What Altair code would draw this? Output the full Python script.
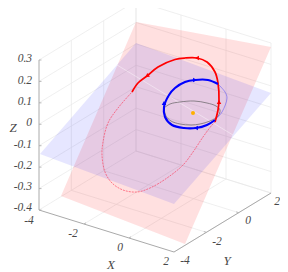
import altair as alt
import numpy as np
import pandas as pd

W, H = 272, 264
OX, OY = 8, 8

# Plot-box corners and ticks (page pixels)
x_ticks = [-4, -2, 0, 2]
y_ticks = [-4, -2, 0, 2]
z_ticks = [0.3, 0.2, 0.1, 0, -0.1, -0.2, -0.3, -0.4]
z_tick_text = ["0.3", "0.2", "0.1", "0", "-0.1", "-0.2", "-0.3", "-0.4"]
z_label_py = [59, 81, 102, 123, 145, 166, 187, 208]

red_plane = [(61, 196), (136, 22), (271, 47), (185, 244)]
blue_plane = [(40, 154), (136, 43), (271, 93), (174, 204)]
seam = [(117, 65), (233, 135)]

red_thick = [(132, 92), (138, 83), (147, 76), (158, 67), (175, 59.5), (185, 58), (197, 58), (207, 62), (215, 72),
             (218, 83), (219, 100), (218, 110), (215, 122)]
red_thin = [(215, 122), (212, 125), (203, 137), (193, 152), (183, 165), (167, 178), (150, 188), (137, 192),
            (123, 190), (112, 183), (105, 172), (102, 155), (103, 142), (108, 123), (118, 108), (132, 92)]
blue_thick = [(218, 84), (208, 80), (195, 80), (185, 82), (175, 88), (169, 95), (164, 107), (165, 117), (172, 125),
              (184, 128), (196, 128), (207, 125), (215, 120)]
blue_thin = [(215, 120), (222, 112), (227, 98), (225, 92), (218, 84)]
ellipse = [(164, 108), (170, 104), (180, 102), (194, 101), (207, 103), (216, 106), (220, 110), (218, 116),
           (210, 121), (200, 124), (191, 125), (180, 124), (171, 121), (166, 116), (164, 108)]
red_heads = [(147, 76, 235), (197, 58, 270), (219, 102, 0)]
blue_heads = [(195, 80, 90), (164, 103, 0), (196, 128, 270)]
focus = [(193, 113)]


def project(x, y, z):
    return (39 + (x + 4) * 22.5 + (y + 4) * 16.17,
            210 + (x + 4) * 7 - (y + 4) * 9.83 - (z + 0.4) * 214.3)


sx = alt.Scale(domain=[OX, OX + W], range=[0, W])
sy = alt.Scale(domain=[OY, OY + H], range=[0, H])
X = alt.X("px:Q", scale=sx, axis=None)
Y = alt.Y("py:Q", scale=sy, axis=None)


def line(pts, color, width, opacity=1.0, interp="linear", dash=None):
    df = pd.DataFrame(pts, columns=["px", "py"])
    df["i"] = range(len(df))
    kw = dict(color=color, strokeWidth=width, opacity=opacity, interpolate=interp, clip=False)
    if dash:
        kw["strokeDash"] = dash
    return alt.Chart(df).mark_line(**kw).encode(x=X, y=Y, order=alt.Order("i:Q"))


def plane(corners, color, opacity):
    c = np.array(corners, float)
    order = np.argsort(c[:, 0])
    xs = c[order, 0]
    a, b = c[order[0]], c[order[-1]]
    mids = c[order[1:-1]]
    top_pts = [a] + [m for m in mids if m[1] < a[1] + (b[1] - a[1]) * (m[0] - a[0]) / (b[0] - a[0])] + [b]
    bot_pts = [a] + [m for m in mids if m[1] >= a[1] + (b[1] - a[1]) * (m[0] - a[0]) / (b[0] - a[0])] + [b]
    t = np.array(top_pts)
    u = np.array(bot_pts)
    df = pd.DataFrame({"px": xs, "py": np.interp(xs, t[:, 0], t[:, 1]), "py2": np.interp(xs, u[:, 0], u[:, 1])})
    return alt.Chart(df).mark_area(color=color, opacity=opacity, clip=False).encode(x=X, y=Y, y2="py2:Q")


def heads(rows, color):
    df = pd.DataFrame(rows, columns=["px", "py", "a"])
    return alt.Chart(df).mark_point(shape="triangle-up", filled=True, color=color, size=20, opacity=1).encode(
        x=X, y=Y, angle=alt.Angle("a:Q", scale=None))


def text(rows, align="center", size=11.5):
    df = pd.DataFrame(rows, columns=["px", "py", "t"])
    return alt.Chart(df).mark_text(font="Liberation Serif", fontStyle="italic", fontSize=size, color="#484848",
                                   align=align, baseline="middle").encode(x=X, y=Y, text="t:N")


layers = []
GRID = "#e8e8e8"
for x in x_ticks[1:]:
    layers.append(line([project(x, -4, -0.4), project(x, 2, -0.4), project(x, 2, 0.3)], GRID, 0.7))
for y in y_ticks[1:]:
    layers.append(line([project(-4, y, 0.3), project(-4, y, -0.4), project(2, y, -0.4)], GRID, 0.7))
for z in z_ticks:
    layers.append(line([project(-4, -4, z), project(-4, 2, z), project(2, 2, z)], GRID, 0.7))
layers.append(line([project(-4, 2, -0.4), project(-4, 2, 0.3)], GRID, 0.7))

layers.append(plane(red_plane, "#ff3030", 0.15))
layers.append(plane(blue_plane, "#3030ff", 0.12))
layers.append(line(seam, "#ffffff", 0.9, 0.45))

AXIS = "#aaaaaa"
layers.append(line([project(-4, -4, 0.3), project(-4, -4, -0.4), project(2, -4, -0.4), project(2, 2, -0.4)], AXIS, 1))
for z in z_ticks:
    p = project(-4, -4, z)
    layers.append(line([p, (p[0] + 2.5, p[1])], AXIS, 0.8))
for x in x_ticks[1:3]:
    p = project(x, -4, -0.4)
    layers.append(line([p, (p[0] + 2, p[1] - 1.2)], AXIS, 0.8))
for y in y_ticks[1:3]:
    p = project(2, y, -0.4)
    layers.append(line([p, (p[0] - 2.5, p[1] - 0.8)], AXIS, 0.8))

layers.append(line(ellipse, "#555555", 0.7, 0.9, "catmull-rom"))
layers.append(line(blue_thin, "#3030ff", 0.6, 0.7, "catmull-rom"))
layers.append(line(red_thin, "#ff2040", 0.7, 0.8, "catmull-rom", [2, 1]))
layers.append(line(red_thick, "#ff0000", 1.7, 1, "catmull-rom"))
layers.append(line(blue_thick, "#0000ff", 2.1, 1, "catmull-rom"))
layers.append(heads(red_heads, "#ff0000"))
layers.append(heads(blue_heads, "#0000ff"))
layers.append(alt.Chart(pd.DataFrame(focus, columns=["px", "py"])).mark_point(
    shape="circle", filled=True, color="#ffb000", size=16, opacity=1).encode(x=X, y=Y))

layers.append(text([(32, p, t) for p, t in zip(z_label_py, z_tick_text)], "right"))
layers.append(text([(29, 221, "-4"), (73, 234, "-2"), (120, 248, "0"), (166, 262, "2"),
                    (185, 261, "-4"), (217, 242, "-2"), (248, 221, "0"), (277, 202, "2")]))
layers.append(text([(13, 128, "Z"), (111, 265, "X"), (227, 261, "Y")], size=13))

chart = alt.layer(*layers).properties(
    width=W, height=H, padding=0, autosize=alt.AutoSizeParams(type="none"), background="white"
).configure_view(stroke=None)

chart.save("out.html", embed_options={"renderer": "svg", "actions": False})
